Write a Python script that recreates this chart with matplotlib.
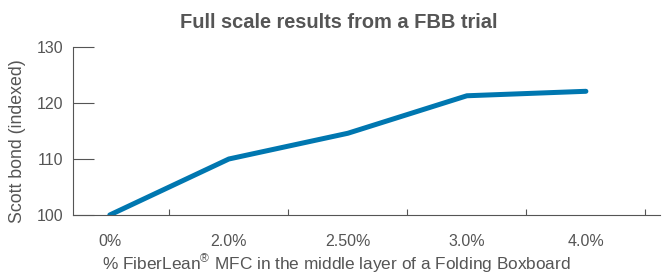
import matplotlib
matplotlib.use("Agg")
import matplotlib.pyplot as plt

# data
categories = ["0%", "2.0%", "2.50%", "3.0%", "4.0%"]
scott_bond = [100, 110, 114.6, 121.3, 122.1]
y_ticks = [100, 110, 120, 130]

grey = "#555555"
blue = "#0077b0"

plt.rcParams['font.family'] = ['Liberation Sans', 'DejaVu Sans']
plt.rcParams['mathtext.fontset'] = 'custom'
plt.rcParams['mathtext.rm'] = 'Liberation Sans'

fig = plt.figure(figsize=(6.63, 2.77), dpi=100)
ax = fig.add_axes([0.110, 0.224, 0.885, 0.606])

x = list(range(len(categories)))
ax.plot(x, scott_bond, color=blue, linewidth=3.6, solid_capstyle='round')

ax.set_xlim(-0.31, 4.62)
ax.set_ylim(100, 130)
ax.set_yticks(y_ticks)
ax.set_xticks([i + 0.5 for i in x])
ax.set_xticklabels([])
ax.set_xticks(x, minor=True)
ax.set_xticklabels(categories, minor=True)

ax.tick_params(axis='y', direction='in', length=15, width=0.8, color=grey,
               labelcolor=grey, labelsize=11.5, pad=7)
ax.tick_params(axis='x', which='major', direction='in', length=4, width=0.8, color=grey)
ax.tick_params(axis='x', which='minor', length=0, labelcolor=grey, labelsize=11.5, pad=14)

for s in ['top', 'right']:
    ax.spines[s].set_visible(False)
for s in ['left', 'bottom']:
    ax.spines[s].set_color(grey)
    ax.spines[s].set_linewidth(0.8)

fig.text(18 / 663, 1 - 141 / 277, "Scott bond (indexed)", rotation=90,
         ha='center', va='center', color=grey, fontsize=12.8)
fig.text(336 / 663, 1 - 264 / 277,
         r"% FiberLean$^{®}$ MFC in the middle layer of a Folding Boxboard",
         ha='center', va='center', color=grey, fontsize=12.4)
fig.text(339 / 663, 1 - 22 / 277, "Full scale results from a FBB trial", ha='center',
         va='center', fontsize=14.4, fontweight='bold', color=grey)

fig.savefig("out.png", dpi=100)
